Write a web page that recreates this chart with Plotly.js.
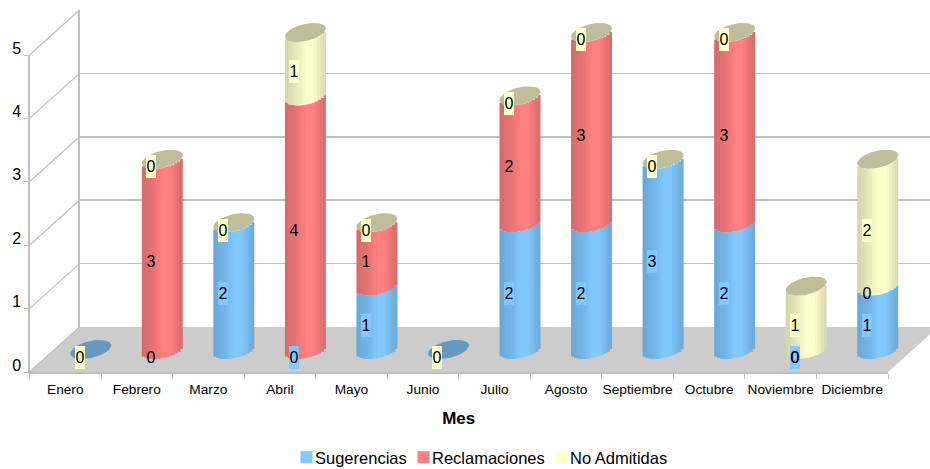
<!DOCTYPE html>
<html><head><meta charset="utf-8">
<script src="https://cdn.plot.ly/plotly-3.0.1.min.js"></script>
<style>html,body{margin:0;padding:0;background:#fff}#c{width:930px;height:469px}</style>
</head><body><div id="c"></div>
<script>
// ---- data ----
const meses = ['Enero','Febrero','Marzo','Abril','Mayo','Junio','Julio','Agosto','Septiembre','Octubre','Noviembre','Diciembre'];
const sugerencias   = [0,0,2,0,1,0,2,2,3,2,0,1];
const reclamaciones = [0,3,0,4,1,0,2,3,0,3,0,0];
const noAdmitidas   = [0,0,0,1,0,0,0,0,0,0,1,2];
const ticksY = [0,1,2,3,4,5];
const nombres = ['Sugerencias','Reclamaciones','No Admitidas'];
const colores = [[128,200,255],[255,128,128],[255,255,204]];
const fondos  = ['#80C8FF', null, '#FFFFCC'];
// shading of the cylinder, left to right
const sombra = [.84,.86,.88,.9,.92,.95,.98,1,1,1,.97,.93,.89,.86];

// ---- 3D-look geometry (pixels) ----
const W=930,H=469;
const fx0=29.5,fx1=888,fy0=372,fy5=55;      // front plane
const depthX=50,depthY=45;                  // wall offset
const pxX=(fx1-fx0)/12, pxY=(fy0-fy5)/5;
const midX=25.5,midY=22.5;                  // bars stand half way in depth
const rad=20.5,radY=9.5,phi=25*Math.PI/180; // tilted base ellipse
const gray='#BFBFBF';
const pxx=p=>p/W, pxy=p=>1-p/H;

const series=[sugerencias,reclamaciones,noAdmitidas];
const totales=meses.map((_,i)=>series.reduce((a,s)=>a+s[i],0));
const idx=meses.map((_,i)=>i);
const n=sombra.length, ancho=2*rad/pxX/n;

const traces=[];
// invisible traces that define the back wall and the front category axis
traces.push({type:'scatter',mode:'none',x:[0,1],y:[0,5],xaxis:'x',yaxis:'y',showlegend:false,hoverinfo:'skip'});
traces.push({type:'scatter',mode:'none',x:meses,y:totales,xaxis:'x3',yaxis:'y3',showlegend:false,hoverinfo:'skip'});
// cylinders: each series is a pile of narrow vertical strips
series.forEach((vals,k)=>{
  let inf=idx.map(i=>series.slice(0,k).reduce((a,s)=>a+s[i],0));
  sombra.forEach((f,j)=>{
    const u=(j+.5)/n*2-1;
    const t=phi+2*Math.PI-Math.acos(u);
    const h=radY*Math.sin(t)/pxY;
    const c=colores[k].map(v=>Math.round(v*f));
    const leg = j===8;
    traces.push({type:'bar',x:idx,y:vals,base:inf.map(b=>b+h),width:j===n-1?ancho:ancho*1.3,offset:-rad/pxX+j*ancho,
      marker:{color:`rgb(${c})`,line:{width:0}},xaxis:'x2',yaxis:'y2',hoverinfo:'skip',name:nombres[k],
      showlegend:leg,legend:k===0?'legend':('legend'+(k+1))});
  });
});
// caps
function elipses(list){
  const xs=[],ys=[];
  list.forEach(i=>{
    for(let d=0;d<=48;d++){
      const t=d/48*2*Math.PI;
      xs.push(i+(rad*Math.cos(phi)*Math.cos(t)+rad*Math.sin(phi)*Math.sin(t))/pxX);
      ys.push(totales[i]+radY*Math.sin(t)/pxY);
    }
    xs.push(null);ys.push(null);
  });
  return {x:xs,y:ys};
}
const conAltura=idx.filter(i=>totales[i]>0), sinAltura=idx.filter(i=>totales[i]===0);
[[conAltura,'#BEBE9A'],[sinAltura,'#6699BF']].forEach(([l,c])=>{
  const e=elipses(l);
  traces.push({type:'scatter',mode:'lines',x:e.x,y:e.y,fill:'toself',fillcolor:c,line:{width:0,color:c},
    xaxis:'x2',yaxis:'y2',showlegend:false,hoverinfo:'skip',connectgaps:false});
});

// data labels
const annotations=[];
series.forEach((vals,k)=>{
  vals.forEach((v,i)=>{
    const inf=series.slice(0,k).reduce((a,s)=>a+s[i],0);
    let bg=fondos[k];
    if(k===0 && meses[i]==='Febrero') bg=null;
    annotations.push({xref:'x3',yref:'y3',x:meses[i],y:inf+v/2,text:String(v),showarrow:false,
      xshift:14.5,yshift:15,width:10,height:23,borderpad:0,borderwidth:0,
      bgcolor:bg||'rgba(0,0,0,0)',font:{family:'Liberation Sans, Arial',size:16,color:'#000'},
      align:'center',valign:'middle'});
  });
});

// walls and floor
const shapes=[];
shapes.push({type:'path',xref:'paper',yref:'paper',layer:'below',line:{width:0},fillcolor:'#CCCCCC',
  path:`M${pxx(fx0)},${pxy(fy0)} L${pxx(fx1)},${pxy(fy0)} L${pxx(fx1+depthX)},${pxy(fy0-depthY)} L${pxx(fx0+depthX)},${pxy(fy0-depthY)} Z`});
ticksY.forEach(v=>{
  const y=fy0-v*pxY;
  shapes.push({type:'line',xref:'paper',yref:'paper',layer:'below',x0:pxx(fx0),y0:pxy(y),x1:pxx(fx0+depthX),y1:pxy(y-depthY),
    line:{color:gray,width:1.2}});
});

const dom=(a,b)=>[a/W,b/W];
const domY=(bottom,top)=>[1-bottom/H,1-top/H];
const fontAxis={family:'Liberation Sans, Arial',color:'#000'};
const legendBase={orientation:'h',y:1-440/H,yanchor:'top',bgcolor:'rgba(0,0,0,0)',borderwidth:0,
  font:{family:'Liberation Sans, Arial',size:16.5,color:'#000'},itemclick:false,itemdoubleclick:false};
const layout={
  width:W,height:H,margin:{l:0,r:0,t:0,b:0,autoexpand:false},paper_bgcolor:'#fff',plot_bgcolor:'rgba(0,0,0,0)',
  barmode:'overlay',showlegend:true,shapes,annotations,
  legend:Object.assign({},legendBase,{x:275/W}),
  legend2:Object.assign({},legendBase,{x:392/W}),
  legend3:Object.assign({},legendBase,{x:530/W}),
  // back wall
  xaxis:{domain:dom(fx0+depthX,W),range:[0,1],visible:false,anchor:'y'},
  yaxis:{domain:domY(fy0-depthY,fy5-depthY),range:[0,5],dtick:1,showgrid:true,gridcolor:gray,gridwidth:1.5,zeroline:false,
    showline:true,linecolor:gray,linewidth:1.5,showticklabels:false,ticks:'',anchor:'x'},
  // bars, half way in depth
  xaxis2:{domain:dom(fx0+midX,fx1+midX),range:[-.5,11.5],visible:false,anchor:'y2'},
  yaxis2:{domain:domY(fy0-midY+.5*pxY,fy0-midY-5.5*pxY),range:[-.5,5.5],visible:false,anchor:'x2'},
  // front axes
  xaxis3:{domain:dom(fx0,fx1),type:'category',categoryorder:'array',categoryarray:meses,range:[-.5,11.5],tickson:'boundaries',
    anchor:'y3',showgrid:false,zeroline:false,showline:true,linecolor:gray,linewidth:2,ticks:'outside',ticklen:5,tickcolor:gray,tickwidth:1,
    tickfont:Object.assign({size:13.7},fontAxis),tickangle:0,ticklabelstandoff:4,
    title:{text:'<b>Mes</b>',font:Object.assign({size:17},fontAxis),standoff:16}},
  yaxis3:{domain:domY(fy0,fy5),range:[0,5],tickvals:ticksY,anchor:'x3',showgrid:false,zeroline:false,showline:true,linecolor:gray,linewidth:1.2,
    ticks:'outside',ticklen:4,tickcolor:gray,tickwidth:1,tickfont:Object.assign({size:16},fontAxis),ticklabelshift:-7}
};
Plotly.newPlot('c',traces,layout,{displayModeBar:false,staticPlot:true}).then(()=>{
  document.querySelectorAll('g.legend path, g.legend2 path, g.legend3 path').forEach(el=>{
    const t=el.getAttribute('transform')||'';
    if(t.includes('translate(20')) el.setAttribute('transform','translate(31.5,0)');
  });
});
</script></body></html>
